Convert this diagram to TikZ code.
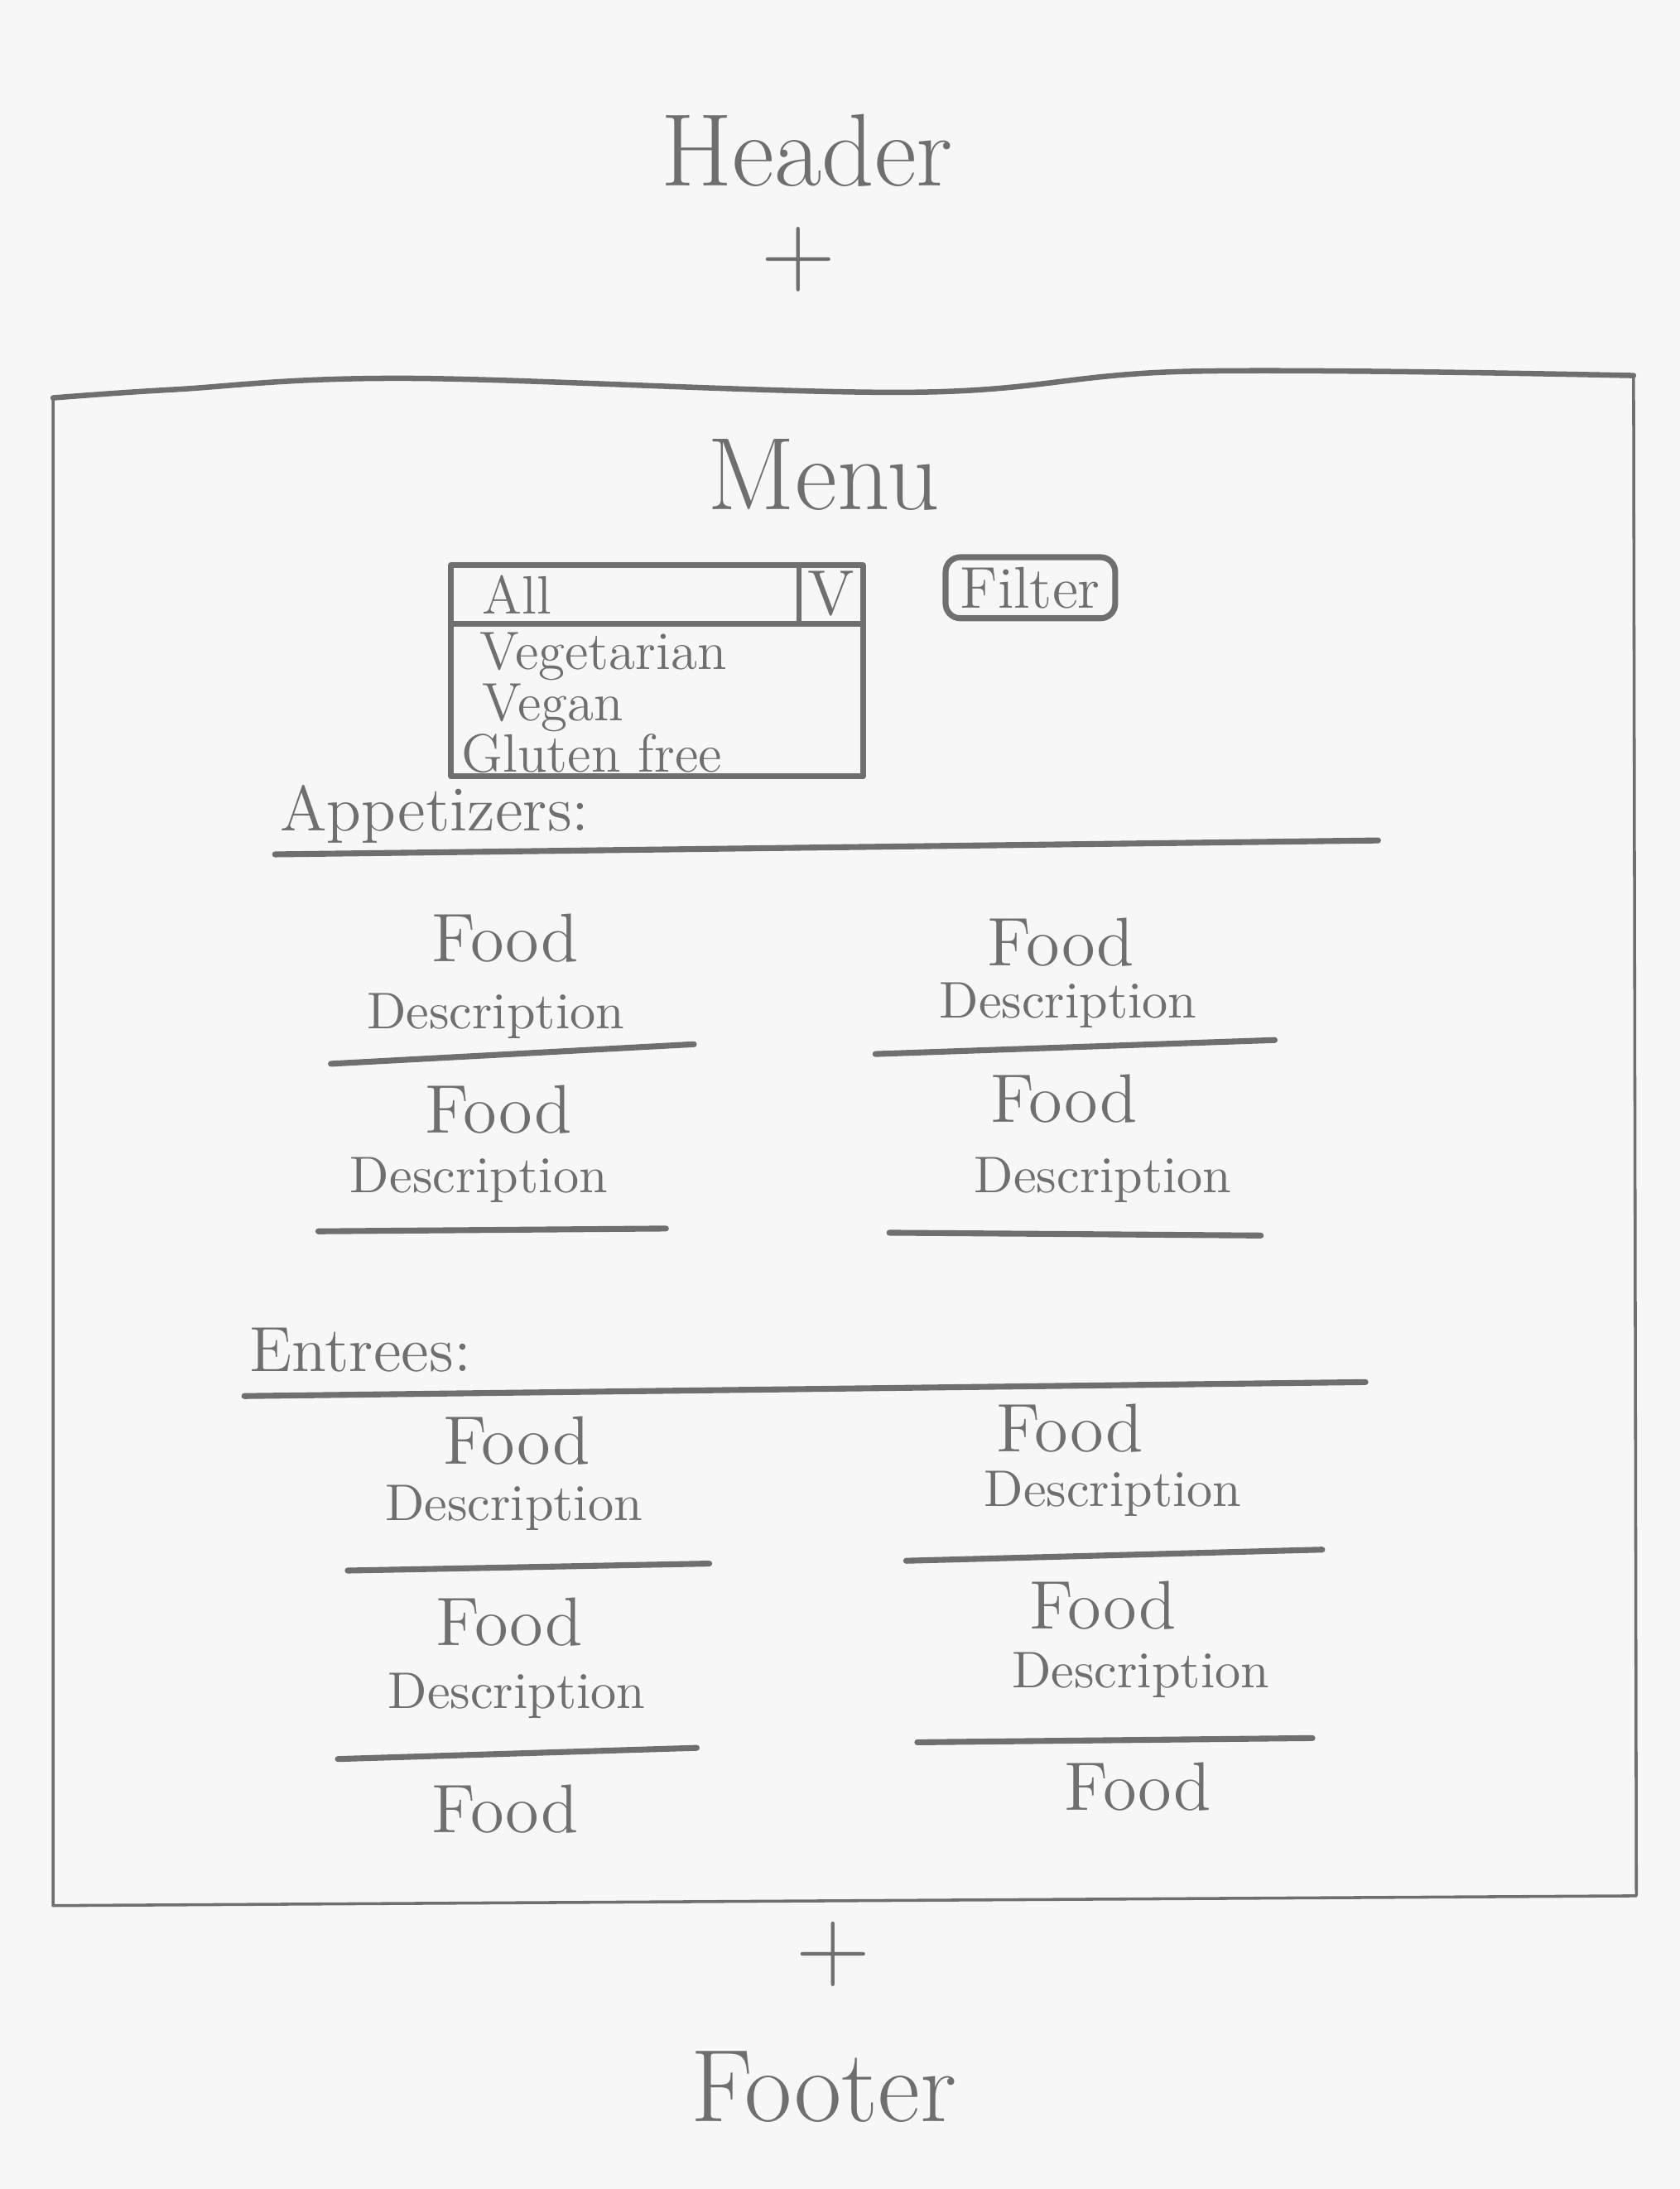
\documentclass[tikz,border=0pt]{standalone}
\usepackage{xcolor}
\usepackage{tikz}
\usetikzlibrary{calc,backgrounds,positioning}

\definecolor{pencil}{HTML}{6F6F6F}
\definecolor{paper}{HTML}{F7F7F7}

\begin{document}
\begin{tikzpicture}
        \tikzstyle{sketch} = [draw=pencil, line width=0.6pt, line join=round, line cap=round],
        \tikzstyle{rule} = [draw=pencil, line width=1.2pt, line cap=round],
        \tikzstyle{big} = [text=pencil, inner sep=0pt, font=\fontsize{21pt}{24pt}\selectfont],
        \tikzstyle{heading} = [text=pencil, inner sep=0pt, anchor=west, font=\fontsize{13pt}{15pt}\selectfont],
        \tikzstyle{food} = [text=pencil, inner sep=0pt, font=\fontsize{14pt}{16pt}\selectfont],
        \tikzstyle{desc} = [text=pencil, inner sep=0pt, font=\fontsize{10.5pt}{12pt}\selectfont],
        \tikzstyle{option} = [text=pencil, inner sep=0pt, anchor=west, font=\fontsize{11pt}{13pt}\selectfont],

        % paper and picture size
        \fill [paper] (0,0) rectangle (12.03,-15.68);
        \useasboundingbox (0,0) rectangle (12.03,-15.68);

        % header
        \node [big, name=header] at (5.78,-1.08) {Header};
        \node [big, name=plustop] at (5.72,-1.86) {+};

        % page frame
        \coordinate (framenw) at (0.38,-2.85);
        \coordinate (framene) at (11.70,-2.69);
        \coordinate (framese) at (11.72,-13.58);
        \coordinate (framesw) at (0.38,-13.65);
        \draw [sketch, line width=1.1pt] plot [smooth, tension=0.6] coordinates {(framenw) (1.25,-2.79) (2.92,-2.71) (6.52,-2.81) (8.52,-2.66) (framene)};
        \draw [sketch] (framene) -- (framese) -- (framesw) -- (framenw);

        \node [big, name=menu] at (5.90,-3.40) {Menu};

        % dropdown
        \coordinate (ddnw) at (3.23,-4.05);
        \coordinate (ddse) at (6.18,-5.56);
        \coordinate (ddsplit) at (5.72,-4.05);
        \draw [sketch, line width=1.2pt] (ddnw) rectangle (ddse);
        \draw [sketch, line width=1.2pt] (ddnw |- 0,-4.47) -- (ddse |- 0,-4.47);
        \draw [sketch, line width=1.0pt] (ddsplit) -- (ddsplit |- 0,-4.47);
        \node [option, name=all] at (3.45,-4.26) {All};
        \node [text=pencil, inner sep=0pt, font=\fontsize{13pt}{15pt}\selectfont, name=arrowv] at (5.95,-4.25) {V};
        \node [option, name=veg] at (3.43,-4.70) {Vegetarian};
        \node [option, name=vegan] at (3.45,-5.07) {Vegan};
        \node [option, name=gluten] at (3.30,-5.40) {Gluten free};

        % filter button
        \node [text=pencil, draw=pencil, line width=1.2pt, rounded corners=3pt, inner xsep=3pt, inner ysep=2pt,
               font=\fontsize{12pt}{14pt}\selectfont, name=filter] at (7.38,-4.21) {Filter};

        % appetizers
        \node [heading, name=appetizers] at (2.00,-5.83) {Appetizers:};
        \coordinate (appstart) at (1.97,-6.12);
        \coordinate (append) at (9.87,-6.02);
        \draw [rule] (appstart) -- (append);

        \node [food, name=food1] at (3.62,-6.72) {Food};
        \node [desc, name=desc1] at (3.55,-7.28) {Description};
        \coordinate (line1a) at (2.37,-7.62);
        \coordinate (line1b) at (4.97,-7.48);
        \node [food, name=food2] at (7.60,-6.75) {Food};
        \node [desc, name=desc2] at (7.65,-7.20) {Description};
        \coordinate (line2a) at (6.27,-7.55);
        \coordinate (line2b) at (9.13,-7.45);
        \node [food, name=food3] at (3.57,-7.95) {Food};
        \node [desc, name=desc3] at (3.43,-8.45) {Description};
        \coordinate (line3a) at (2.28,-8.82);
        \coordinate (line3b) at (4.77,-8.80);
        \node [food, name=food4] at (7.62,-7.87) {Food};
        \node [desc, name=desc4] at (7.90,-8.45) {Description};
        \coordinate (line4a) at (6.37,-8.83);
        \coordinate (line4b) at (9.03,-8.85);

        % entrees
        \node [heading, name=entrees] at (1.78,-9.67) {Entrees:};
        \coordinate (entstart) at (1.75,-10.00);
        \coordinate (entend) at (9.78,-9.90);
        \draw [rule] (entstart) -- (entend);

        \node [food, name=food5] at (3.70,-10.32) {Food};
        \node [desc, name=desc5] at (3.68,-10.80) {Description};
        \coordinate (line5a) at (2.49,-11.25);
        \coordinate (line5b) at (5.08,-11.20);
        \node [food, name=food6] at (7.66,-10.23) {Food};
        \node [desc, name=desc6] at (7.97,-10.70) {Description};
        \coordinate (line6a) at (6.49,-11.18);
        \coordinate (line6b) at (9.47,-11.10);
        \node [food, name=food7] at (3.65,-11.62) {Food};
        \node [desc, name=desc7] at (3.70,-12.15) {Description};
        \coordinate (line7a) at (2.42,-12.60);
        \coordinate (line7b) at (4.99,-12.52);
        \node [food, name=food8] at (7.90,-11.50) {Food};
        \node [desc, name=desc8] at (8.17,-12.00) {Description};
        \coordinate (line8a) at (6.57,-12.48);
        \coordinate (line8b) at (9.40,-12.45);
        \node [food, name=food9] at (3.62,-12.96) {Food};
        \node [food, name=food10] at (8.15,-12.80) {Food};

        % separators
        \draw [rule] (line1a) -- (line1b);
        \draw [rule] (line2a) -- (line2b);
        \draw [rule] (line3a) -- (line3b);
        \draw [rule] (line4a) -- (line4b);
        \draw [rule] (line5a) -- (line5b);
        \draw [rule] (line6a) -- (line6b);
        \draw [rule] (line7a) -- (line7b);
        \draw [rule] (line8a) -- (line8b);

        % footer
        \node [big, name=plusbottom] at (5.97,-14.00) {+};
        \node [big, name=footer] at (5.90,-14.95) {Footer};

    \end{tikzpicture}
\end{document}
